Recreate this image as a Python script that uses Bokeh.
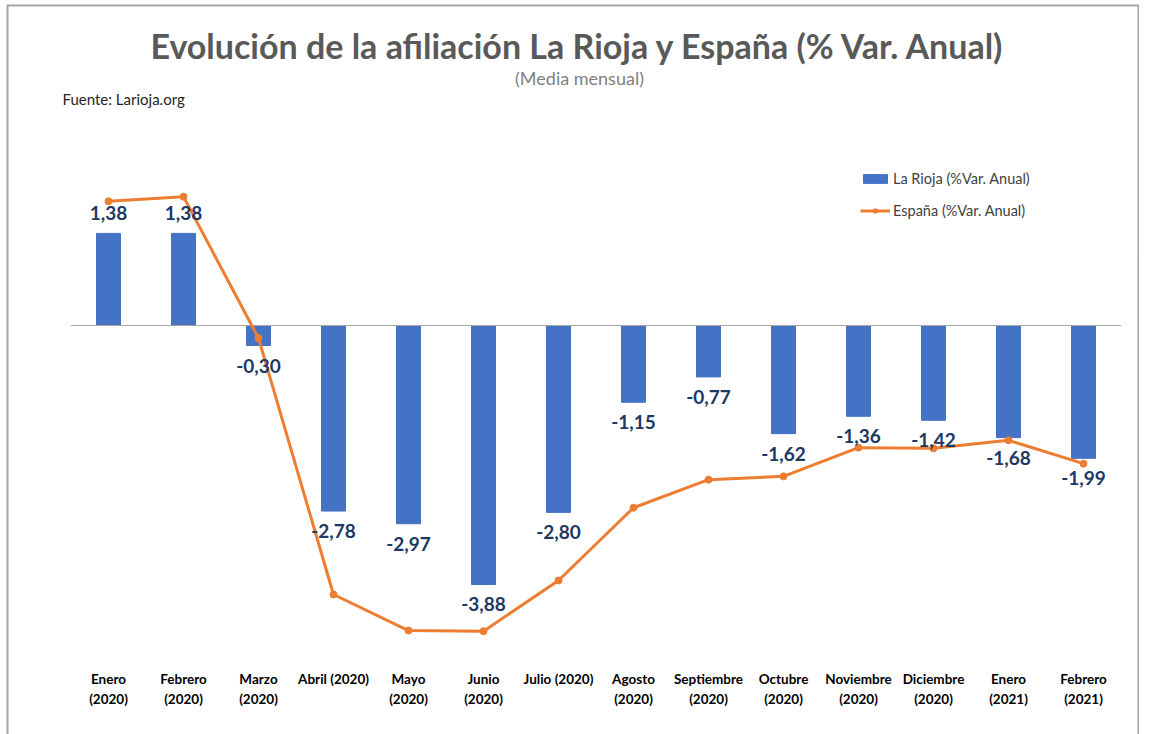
from bokeh.plotting import figure
from bokeh.models import ColumnDataSource, Label, Legend, LegendItem, Range1d
from bokeh.core.properties import value
from bokeh.embed import file_html
from bokeh.resources import INLINE

# ---- data ----
months = ["Enero\n(2020)", "Febrero\n(2020)", "Marzo\n(2020)", "Abril (2020)", "Mayo\n(2020)",
          "Junio\n(2020)", "Julio (2020)", "Agosto\n(2020)", "Septiembre\n(2020)", "Octubre\n(2020)",
          "Noviembre\n(2020)", "Diciembre\n(2020)", "Enero\n(2021)", "Febrero\n(2021)"]
rioja = [1.38, 1.38, -0.30, -2.78, -2.97, -3.88, -2.80, -1.15, -0.77, -1.62, -1.36, -1.42, -1.68, -1.99]
espana = [1.86, 1.93, -0.19, -4.03, -4.57, -4.58, -3.82, -2.73, -2.31, -2.26, -1.83, -1.84, -1.72, -2.07]

title = "Evolución de la afiliación La Rioja y España (% Var. Anual)"
subtitle = "(Media mensual)"
source_txt = "Fuente: Larioja.org"
FONT = "Lato"

# ---- layout ----
W, H = 1139, 734
FL, FT = 6, 4            # frame left / top on the page
FW, FH = W - FL, H - FT  # frame size
CAT_PX = 75.0
FIRST_CX = 108.0         # page x of first category centre
SCALE = 66.75            # px per percentage point
ZERO_Y = 325.0           # page y of zero line

x0 = -(FIRST_CX - FL) / CAT_PX
x1 = x0 + FW / CAT_PX
y1 = (ZERO_Y - FT) / SCALE
y0 = -(FH - (ZERO_Y - FT)) / SCALE


def px(page_x):
    return x0 + (page_x - FL) / CAT_PX


def py(page_y):
    return y1 - (page_y - FT) / SCALE


n = len(months)
xs = list(range(n))
src = ColumnDataSource(dict(
    x=xs, months=months, rioja=rioja, espana=espana,
    lbl=[f"{v:.2f}".replace(".", ",") for v in rioja],
    yoff=[-20 if v >= 0 else 20 for v in rioja],
    laby=[py(670)] * n,
))

p = figure(width=W, height=H, x_range=Range1d(x0, x1), y_range=Range1d(y0, y1),
           output_backend="svg", toolbar_location=None, x_axis_location=None, y_axis_location=None,
           min_border=0, min_border_left=FL, min_border_right=0, min_border_top=FT, min_border_bottom=0)
p.grid.visible = False
p.outline_line_color = None
p.background_fill_color = "white"
p.border_fill_color = "white"

# chart-area border (left, top, right; the bottom runs off the page)
p.line(x=[x0, x0, x1, x1], y=[y0, y1, y1, y0], line_color="#a6a6a6", line_width=4)

bars = p.vbar(x="x", top="rioja", width=0.32, color="#4472C4", source=src)
p.segment(x0=[-0.5], x1=[n - 0.5], y0=[0], y1=[0], line_color="#a6a6a6", line_width=1)
ln = p.line(x="x", y="espana", color="#ED7D31", line_width=3, source=src)
sc = p.scatter(x="x", y="espana", size=7, color="#ED7D31", source=src)

p.text(x="x", y="rioja", text="lbl", y_offset="yoff", source=src, text_align="center",
       text_baseline="middle", text_font=value(FONT), text_font_style="bold",
       text_font_size="19px", text_color="#203864")

p.text(x="x", y="laby", text="months", source=src, text_align="center", text_baseline="top",
       text_font=value(FONT), text_font_style="bold", text_font_size="13.5px",
       text_color="#000000", text_line_height=1.3)

p.add_layout(Label(x=px(578), y=py(45), text=title, text_align="center", text_baseline="middle",
                   text_font=FONT, text_font_style="bold", text_font_size="34px",
                   text_color="#595959"))
p.add_layout(Label(x=px(579), y=py(77), text=subtitle, text_align="center", text_baseline="middle",
                   text_font=FONT, text_font_size="18px", text_color="#7f7f7f"))
p.add_layout(Label(x=px(62), y=py(98), text=source_txt, text_align="left", text_baseline="middle",
                   text_font=FONT, text_font_size="15px", text_color="#262626"))

legend = Legend(items=[LegendItem(label="La Rioja (%Var. Anual)", renderers=[bars]),
                       LegendItem(label="España (%Var. Anual)", renderers=[ln, sc])],
                location=(862 - FL - 2, H - 168 - 52), padding=0, margin=0, spacing=12,
                glyph_width=30, glyph_height=11, label_height=20, label_standoff=3,
                label_text_font=FONT, label_text_font_size="14.5px", label_text_color="#404040",
                border_line_color=None, background_fill_alpha=0)
p.add_layout(legend, "center")

open("out.html", "w").write(file_html(p, INLINE))
